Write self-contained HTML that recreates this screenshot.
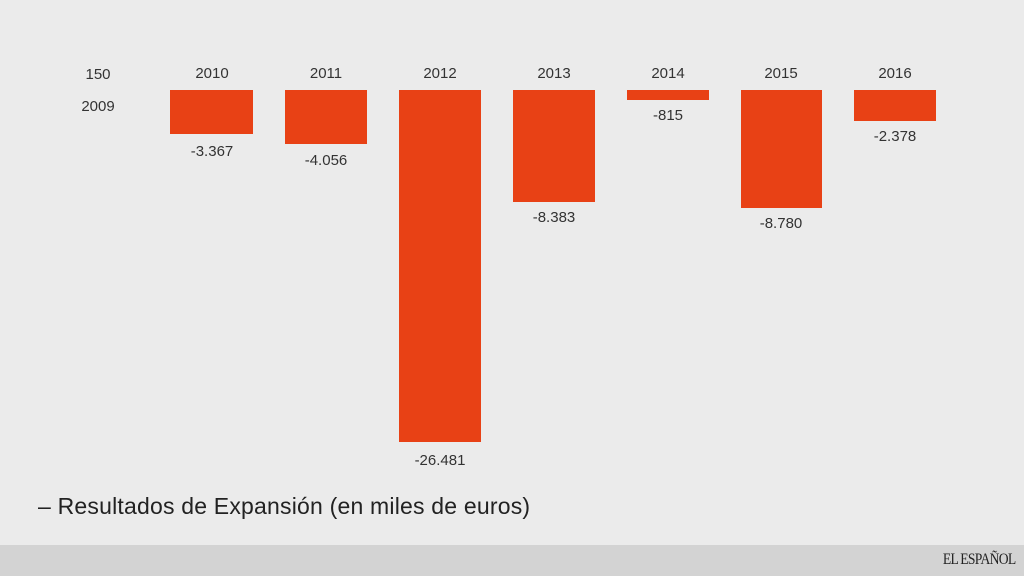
<!DOCTYPE html>
<html><head><meta charset="utf-8"><style>
body{margin:0;width:1024px;height:576px;background:#ebebeb;font-family:"Liberation Sans",sans-serif;position:relative;overflow:hidden}
.t{position:absolute;font-size:15px;color:#333;text-align:center;width:90px;line-height:18px}
.b{position:absolute;background:#e84115;top:90px}
.foot{position:absolute;left:0;top:545px;width:1024px;height:31px;background:#d3d3d3}
</style></head><body>
<div class="t" style="left:53px;top:66px">150</div>
<div class="t" style="left:53px;top:98px">2009</div>

<div class="t" style="left:167px;top:65px">2010</div>
<div class="b" style="left:170px;width:83px;height:44px"></div>
<div class="t" style="left:167px;top:143px">-3.367</div>

<div class="t" style="left:281px;top:65px">2011</div>
<div class="b" style="left:285px;width:82px;height:54px"></div>
<div class="t" style="left:281px;top:152px">-4.056</div>

<div class="t" style="left:395px;top:65px">2012</div>
<div class="b" style="left:399px;width:82px;height:352px"></div>
<div class="t" style="left:395px;top:452px">-26.481</div>

<div class="t" style="left:509px;top:65px">2013</div>
<div class="b" style="left:513px;width:82px;height:112px"></div>
<div class="t" style="left:509px;top:209px">-8.383</div>

<div class="t" style="left:623px;top:65px">2014</div>
<div class="b" style="left:627px;width:82px;height:10px"></div>
<div class="t" style="left:623px;top:107px">-815</div>

<div class="t" style="left:736px;top:65px">2015</div>
<div class="b" style="left:741px;width:81px;height:118px"></div>
<div class="t" style="left:736px;top:215px">-8.780</div>

<div class="t" style="left:850px;top:65px">2016</div>
<div class="b" style="left:854px;width:82px;height:31px"></div>
<div class="t" style="left:850px;top:128px">-2.378</div>

<div style="position:absolute;left:38px;top:493px;font-size:23px;color:#222;letter-spacing:0.2px">– Resultados de Expansión (en miles de euros)</div>
<div class="foot"></div>
<div style="position:absolute;right:9px;top:551px;font-family:'Liberation Serif',serif;font-size:16px;color:#222;letter-spacing:-0.8px;transform:scaleX(0.85);transform-origin:right">EL ESPAÑOL</div>
</body></html>
